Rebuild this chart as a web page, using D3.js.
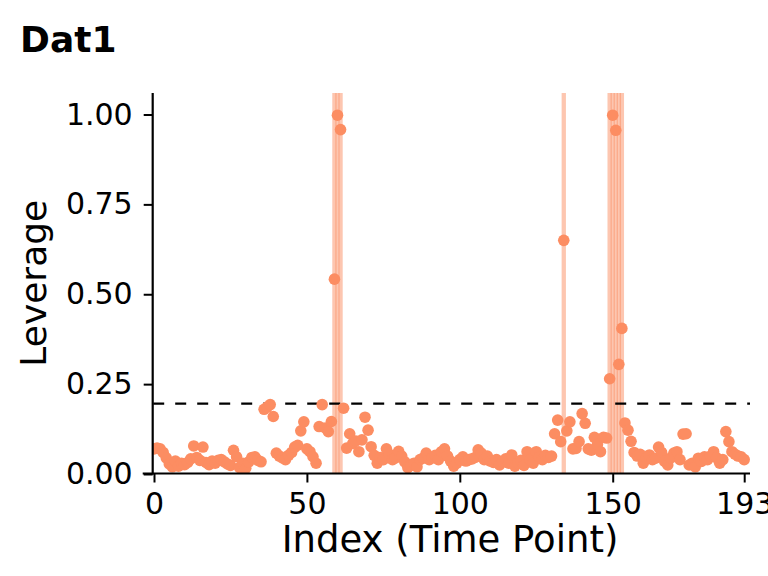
<!DOCTYPE html>
<html>
<head>
<meta charset="utf-8">
<script src="https://cdn.jsdelivr.net/npm/d3@7"></script>
<style>
  html, body { margin: 0; padding: 0; background: #fff; }
  svg { display: block; }
  text { font-family: "DejaVu Sans", sans-serif; fill: #000; }
</style>
</head>
<body>
<svg id="chart" width="768" height="576"></svg>
<script>
// ---- data ----
const title = "Dat1";
const xLabel = "Index (Time Point)";
const yLabel = "Leverage";
const xTicks = [0, 50, 100, 150, 193];
const yTicks = [0, 0.25, 0.5, 0.75, 1.0];
const threshold = 0.196;
const leverage = [
  0.070, 0.072, 0.070, 0.060, 0.045, 0.028, 0.020, 0.036, 0.022, 0.030,
  0.026, 0.032, 0.042, 0.078, 0.046, 0.038, 0.075, 0.032, 0.026, 0.036,
  0.030, 0.038, 0.040, 0.034, 0.028, 0.024, 0.066, 0.048, 0.018, 0.030,
  0.016, 0.034, 0.046, 0.048, 0.038, 0.034, 0.180, 0.186, 0.193, 0.160,
  0.058, 0.050, 0.045, 0.040, 0.052, 0.060, 0.075, 0.080, 0.120, 0.145,
  0.070, 0.062, 0.048, 0.030, 0.132, 0.193, 0.128, 0.118, 0.146, 0.542,
  0.998, 0.958, 0.183, 0.072, 0.112, 0.085, 0.092, 0.062, 0.095, 0.158,
  0.122, 0.076, 0.052, 0.030, 0.046, 0.040, 0.070, 0.055, 0.040, 0.045,
  0.063, 0.050, 0.034, 0.018, 0.024, 0.030, 0.020, 0.040, 0.044, 0.058,
  0.040, 0.045, 0.052, 0.040, 0.062, 0.070, 0.050, 0.036, 0.022, 0.030,
  0.040, 0.048, 0.036, 0.040, 0.042, 0.046, 0.067, 0.058, 0.040, 0.050,
  0.036, 0.032, 0.040, 0.025, 0.034, 0.042, 0.030, 0.053, 0.022, 0.030,
  0.038, 0.024, 0.062, 0.040, 0.030, 0.062, 0.048, 0.040, 0.052, 0.046,
  0.050, 0.112, 0.150, 0.090, 0.650, 0.120, 0.145, 0.070, 0.071, 0.090,
  0.168, 0.141, 0.070, 0.066, 0.102, 0.082, 0.062, 0.102, 0.100, 0.265,
  0.998, 0.956, 0.305, 0.405, 0.142, 0.122, 0.091, 0.060, 0.050, 0.055,
  0.030, 0.045, 0.053, 0.040, 0.044, 0.075, 0.060, 0.035, 0.025, 0.045,
  0.058, 0.062, 0.040, 0.111, 0.112, 0.025, 0.030, 0.020, 0.044, 0.035,
  0.048, 0.040, 0.050, 0.062, 0.045, 0.030, 0.040, 0.118, 0.090, 0.062,
  0.055, 0.050, 0.048, 0.040
];

// ---- layout ----
const svg = d3.select("#chart");
const pointColor = "#fc8d62";
const panel = { left: 152.7, right: 750, top: 93, bottom: 473.5 };

const x = d3.scaleLinear().domain([0, 193]).range([154, 744.2]);
const y = d3.scaleLinear().domain([0, 1]).range([474, 114.5]);

const data = leverage.map((v, i) => ({ i, v }));

svg.append("defs").append("clipPath").attr("id", "clip")
  .append("rect")
  .attr("x", panel.left).attr("y", panel.top)
  .attr("width", panel.right - panel.left)
  .attr("height", panel.bottom - panel.top);

const plot = svg.append("g").attr("clip-path", "url(#clip)");

// highlight bands for points above threshold
plot.append("g").selectAll("rect")
  .data(data.filter(d => d.v > threshold))
  .join("rect")
  .attr("x", d => x(d.i) - 2.15)
  .attr("width", 4.3)
  .attr("y", panel.top)
  .attr("height", panel.bottom - panel.top)
  .attr("fill", pointColor)
  .attr("fill-opacity", 0.5);

// threshold line
plot.append("line")
  .attr("x1", panel.left + 0.5).attr("x2", panel.right)
  .attr("y1", y(threshold)).attr("y2", y(threshold))
  .attr("stroke", "#000").attr("stroke-width", 2.2)
  .attr("stroke-dasharray", "11,11");

// points
plot.append("g").selectAll("circle")
  .data(data)
  .join("circle")
  .attr("cx", d => x(d.i))
  .attr("cy", d => y(d.v))
  .attr("r", 5.8)
  .attr("fill", pointColor);

// axes
const yAxis = d3.axisLeft(y).tickValues(yTicks).tickFormat(d3.format(".2f"))
  .tickSize(9).tickPadding(11);
const gy = svg.append("g").attr("transform", `translate(${panel.left},0)`).call(yAxis);
gy.select(".domain").remove();
gy.selectAll(".tick line").attr("stroke", "#000").attr("stroke-width", 2);
gy.selectAll(".tick text").style("font-family", "DejaVu Sans").style("font-size", "30px").attr("fill", "#000");
svg.append("line")
  .attr("x1", panel.left).attr("x2", panel.left)
  .attr("y1", panel.top).attr("y2", panel.bottom + 1)
  .attr("stroke", "#000").attr("stroke-width", 2.2);

const xAxis = d3.axisBottom(x).tickValues(xTicks).tickFormat(d3.format("d"))
  .tickSize(9).tickPadding(8);
const gx = svg.append("g").attr("transform", `translate(0,${panel.bottom})`).call(xAxis);
gx.select(".domain").remove();
gx.selectAll(".tick line").attr("stroke", "#000").attr("stroke-width", 2);
gx.selectAll(".tick text").style("font-family", "DejaVu Sans").style("font-size", "30px").attr("fill", "#000")
  .attr("dy", 0).attr("y", 40);
svg.append("line")
  .attr("x1", 142.7).attr("x2", panel.right)
  .attr("y1", panel.bottom).attr("y2", panel.bottom)
  .attr("stroke", "#000").attr("stroke-width", 2.2);

// labels
svg.append("text").attr("x", 20).attr("y", 52)
  .style("font-size", "36px").style("font-weight", "bold").text(title);

svg.append("text").attr("x", 450).attr("y", 552)
  .attr("text-anchor", "middle").style("font-size", "37px").text(xLabel);

svg.append("text")
  .attr("transform", `translate(46,${(panel.top + panel.bottom) / 2}) rotate(-90)`)
  .attr("text-anchor", "middle").style("font-size", "36px").text(yLabel);
</script>
</body>
</html>
